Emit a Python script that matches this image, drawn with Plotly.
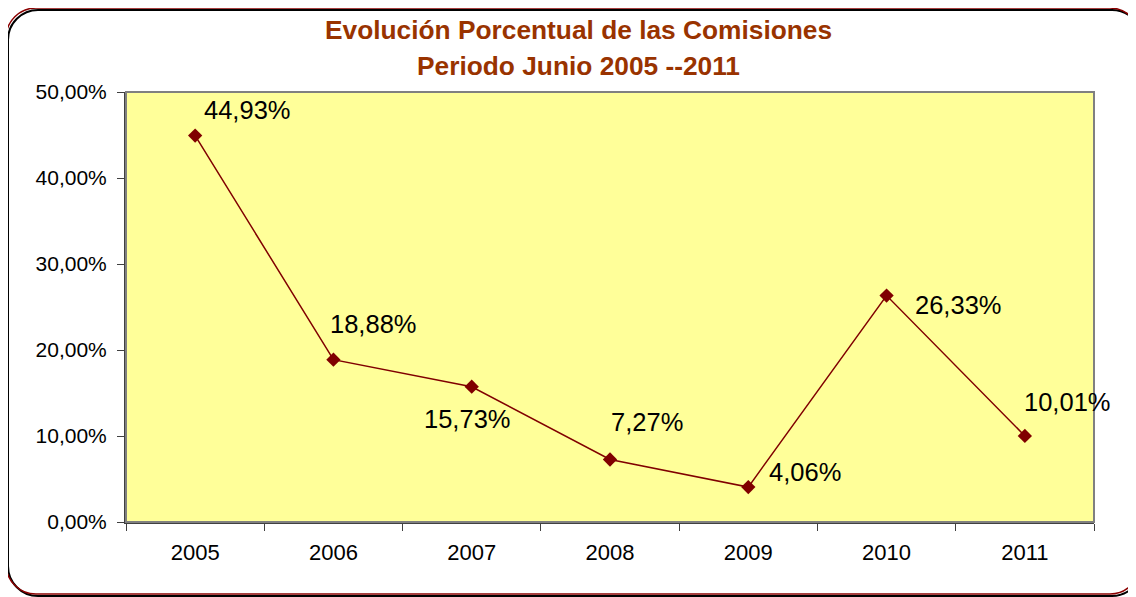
import plotly.graph_objects as go

# ---- data ----
years = ["2005", "2006", "2007", "2008", "2009", "2010", "2011"]
pct = [0.4493, 0.1888, 0.1573, 0.0727, 0.0406, 0.2633, 0.1001]
pct_labels = ["44,93%", "18,88%", "15,73%", "7,27%", "4,06%", "26,33%", "10,01%"]
title_lines = ["Evolución Porcentual de las Comisiones", "Periodo Junio 2005 --2011"]

# ---- style ----
OFF = 8  # page body margin
W, H = 1136 - OFF, 597 - OFF
L, R, T, B = 126 - OFF, 1094 - OFF, 92 - OFF, 522 - OFF
label_shift = [(52, 26), (40, 36), (-4, -32), (37, 37), (57, 15), (72, -9), (43, 34)]
dark_red = "#800000"
title_color = "#993300"


def px(x):
    return (x - OFF - L) / (R - L)


def py(y):
    return (B - (y - OFF)) / (B - T)


def rounded_rect(x0, y0, x1, y1, r):
    k = 0.45 * r
    pts = [
        f"M {px(x0 + r)} {py(y0)}",
        f"L {px(x1 - r)} {py(y0)}",
        f"C {px(x1 - k)} {py(y0)} {px(x1)} {py(y0 + k)} {px(x1)} {py(y0 + r)}",
        f"L {px(x1)} {py(y1 - r)}",
        f"C {px(x1)} {py(y1 - k)} {px(x1 - k)} {py(y1)} {px(x1 - r)} {py(y1)}",
        f"L {px(x0 + r)} {py(y1)}",
        f"C {px(x0 + k)} {py(y1)} {px(x0)} {py(y1 - k)} {px(x0)} {py(y1 - r)}",
        f"L {px(x0)} {py(y0 + r)}",
        f"C {px(x0)} {py(y0 + k)} {px(x0 + k)} {py(y0)} {px(x0 + r)} {py(y0)}",
        "Z",
    ]
    return " ".join(pts)


fig = go.Figure()
fig.add_trace(go.Scatter(
    x=years, y=pct, mode="lines+markers",
    line=dict(color=dark_red, width=1.5),
    marker=dict(symbol="diamond", size=11, color=dark_red),
    hoverinfo="skip", showlegend=False,
))

annotations = []
for i, (v, lab, (dx, dy)) in enumerate(zip(pct, pct_labels, label_shift)):
    annotations.append(dict(
        x=i, y=v, xref="x", yref="y", text=lab, showarrow=False,
        xshift=dx, yshift=dy, xanchor="center", yanchor="middle",
        font=dict(family="Liberation Sans, Arial", size=25.5, color="#000000"),
    ))

for line, ypix in zip(title_lines, [30, 66]):
    annotations.append(dict(
        x=px(578), y=py(ypix), xref="paper", yref="paper", text=f"<b>{line}</b>",
        showarrow=False, xanchor="center", yanchor="middle",
        font=dict(family="Liberation Sans, Arial", size=26.3, color=title_color),
    ))

shapes = [
    dict(type="path", xref="paper", yref="paper",
         path=rounded_rect(8, 10, 1142, 596, 30), line=dict(color="#000000", width=2),
         layer="below"),
    dict(type="path", xref="paper", yref="paper",
         path=rounded_rect(6, 8, 1140, 594, 30), line=dict(color="#8B0000", width=1.5),
         layer="below"),
    dict(type="rect", xref="paper", yref="paper", x0=0, y0=0, x1=1, y1=1,
         line=dict(color="#808080", width=2), layer="above"),
]

fig.update_layout(
    width=W, height=H,
    margin=dict(l=L, r=W - R, t=T, b=H - B, pad=0),
    paper_bgcolor="#FFFFFF",
    plot_bgcolor="#FFFF99",
    separators=",.",
    font=dict(family="Liberation Sans, Arial", color="#000000"),
    annotations=annotations,
    shapes=shapes,
    xaxis=dict(
        type="category", range=[-0.5, 6.5], showgrid=False, zeroline=False,
        showline=True, linecolor="#404040", linewidth=2,
        ticks="outside", tickson="boundaries", ticklen=7, tickcolor="#404040", tickwidth=1,
        tickfont=dict(size=22), ticklabelstandoff=10, fixedrange=True,
    ),
    yaxis=dict(
        range=[0, 0.5], dtick=0.1, tickformat=".2%", showgrid=False, zeroline=False,
        showline=True, linecolor="#404040", linewidth=2,
        ticks="outside", ticklen=7, tickcolor="#404040", tickwidth=1,
        tickfont=dict(size=21), ticklabelstandoff=6, fixedrange=True,
    ),
)

fig.write_html("out.html")
